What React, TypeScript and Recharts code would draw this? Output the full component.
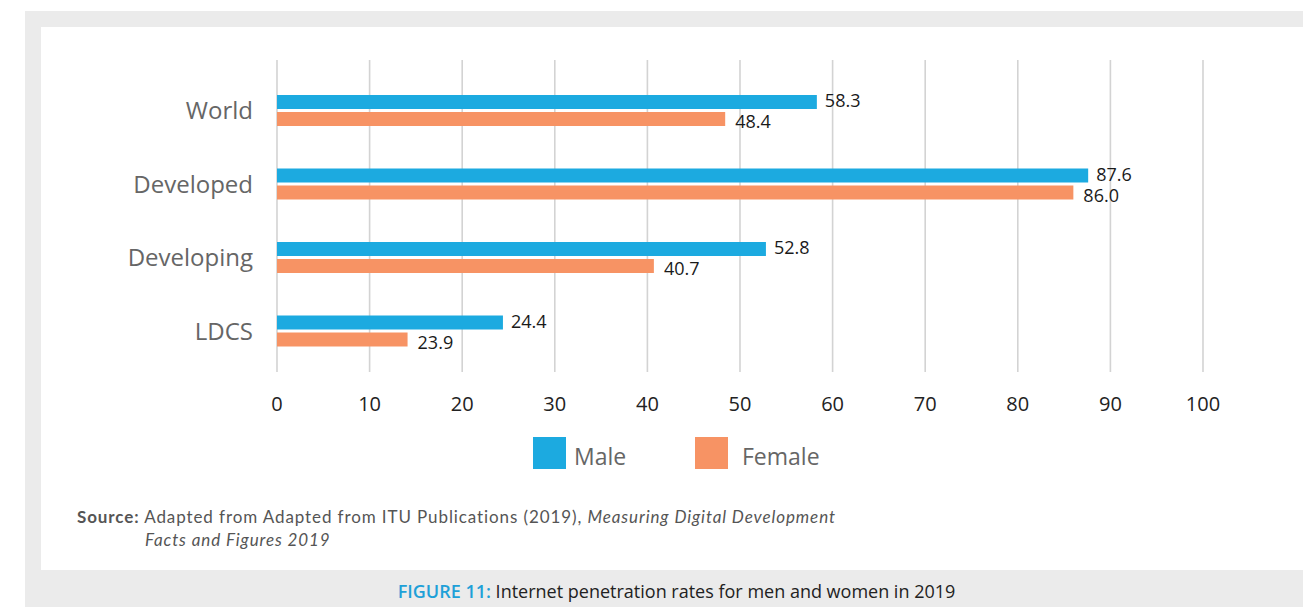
import React from 'react';
import { BarChart, Bar, XAxis, YAxis, CartesianGrid, LabelList } from 'recharts';

const categories = ['World', 'Developed', 'Developing', 'LDCS'];
const maleValues = [58.3, 87.6, 52.8, 24.4];
// bar lengths as drawn in the figure (the LDCS female bar is drawn shorter than its label)
const femaleValues = [48.4, 86.0, 40.7, 14.1];
const maleLabels = ['58.3', '87.6', '52.8', '24.4'];
const femaleLabels = ['48.4', '86.0', '40.7', '23.9'];
const xTicks = [0, 10, 20, 30, 40, 50, 60, 70, 80, 90, 100];
const seriesNames = ['Male', 'Female'];

const BLUE = '#1caae0';
const ORANGE = '#f79364';

const data = categories.map((c, i) => ({
  category: c,
  male: maleValues[i],
  female: femaleValues[i],
  maleLabel: maleLabels[i],
  femaleLabel: femaleLabels[i],
}));

const labelFont = { fontFamily: 'Open Sans', fontSize: 18, fill: '#1a1a1a' };

export default function App() {
  return (
    <div style={{ position: 'absolute', left: 0, top: 0, width: 1303, height: 607, background: '#fff', overflow: 'hidden' }}>
      <div style={{ position: 'absolute', left: 25, top: 11, width: 1278, height: 596, background: '#ebebeb' }} />
      <div style={{ position: 'absolute', left: 41, top: 27, width: 1262, height: 543, background: '#fff' }} />
      <div style={{ position: 'absolute', left: 0, top: 0 }}>
        <BarChart
          width={1303}
          height={430}
          data={data}
          layout="vertical"
          margin={{ top: 60, right: 100, left: 0, bottom: 18 }}
          barGap={3}
          barSize={14}
        >
          <CartesianGrid horizontal={false} stroke="#d3d3d3" strokeWidth={1.6} />
          <XAxis
            type="number"
            domain={[0, 100]}
            ticks={xTicks}
            axisLine={false}
            tickLine={false}
            tickSize={0}
            tickMargin={25}
            height={40}
            tick={{ fontFamily: 'Open Sans', fontSize: 20, fill: '#222' }}
          />
          <YAxis
            type="category"
            dataKey="category"
            width={277}
            axisLine={false}
            tickLine={false}
            tickSize={0}
            tickMargin={24}
            padding={{ top: 14, bottom: 4 }}
            tick={{ fontFamily: 'Open Sans', fontSize: 24, fill: '#666' }}
          />
          <Bar dataKey="male" fill={BLUE} isAnimationActive={false}>
            <LabelList dataKey="maleLabel" position="right" offset={8} dy={-1} style={labelFont} />
          </Bar>
          <Bar dataKey="female" fill={ORANGE} isAnimationActive={false}>
            <LabelList dataKey="femaleLabel" position="right" offset={10} dy={3} style={labelFont} />
          </Bar>
        </BarChart>
      </div>
      {/* legend */}
      <div style={{ position: 'absolute', left: 533, top: 437, display: 'flex', alignItems: 'center', fontFamily: 'Open Sans', fontSize: 23, color: '#666' }}>
        <span style={{ width: 33, height: 32, background: BLUE, display: 'inline-block' }} />
        <span style={{ marginLeft: 8, width: 113, position: 'relative', top: 3 }}>{seriesNames[0]}</span>
        <span style={{ width: 33, height: 32, background: ORANGE, display: 'inline-block', marginLeft: 8 }} />
        <span style={{ marginLeft: 14, position: 'relative', top: 3 }}>{seriesNames[1]}</span>
      </div>
      {/* source */}
      <div style={{ position: 'absolute', left: 77, top: 505, fontFamily: 'Lato', fontSize: 17, letterSpacing: 0.9, color: '#555', lineHeight: '23px' }}>
        <div>
          <b>Source:</b> Adapted from Adapted from ITU Publications (2019), <i>Measuring Digital Development</i>
        </div>
        <div style={{ marginLeft: 68 }}>
          <i>Facts and Figures 2019</i>
        </div>
      </div>
      {/* caption */}
      <div style={{ position: 'absolute', left: 0, width: 1303, top: 579, textAlign: 'center', fontFamily: 'Open Sans', fontSize: 18, color: '#222', lineHeight: '24px' }}>
        <span style={{ marginLeft: 50 }}>
          <span style={{ color: '#1ea0d8', fontWeight: 600 }}>FIGURE 11:</span> Internet penetration rates for men and women in 2019
        </span>
      </div>
    </div>
  );
}
